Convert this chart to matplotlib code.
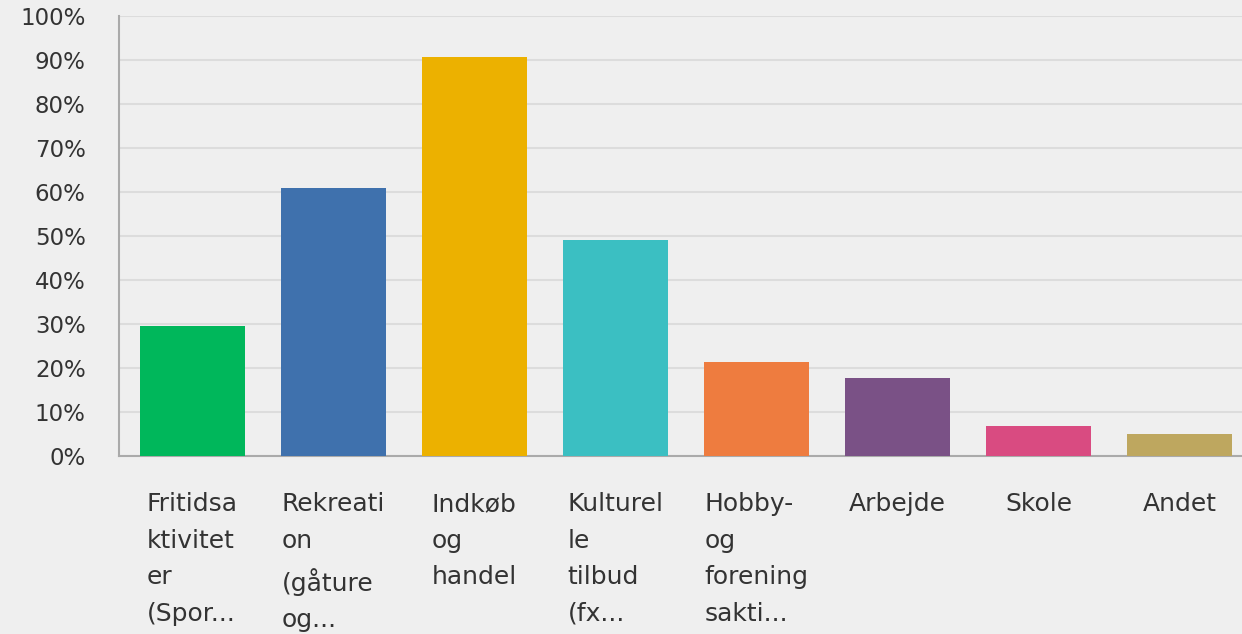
import matplotlib.pyplot as plt
import numpy as np

# survey answers (share of respondents)
categories = ["Fritidsa\nktivitet\ner\n(Spor...", "Rekreati\non\n(gåture\nog...",
              "Indkøb\nog\nhandel", "Kulturel\nle\ntilbud\n(fx...",
              "Hobby-\nog\nforening\nsakti...", "Arbejde", "Skole", "Andet"]
values = [0.295, 0.609, 0.907, 0.491, 0.214, 0.177, 0.069, 0.050]
colors = ["#00b75b", "#3f71ad", "#ecb100", "#3bbfc2", "#ee7c3f", "#7a5186", "#d94b81", "#bea75f"]
yticks = np.arange(0, 1.01, 0.1)

bg = "#efefef"
fig = plt.figure(figsize=(12.42, 6.34), dpi=100, facecolor=bg)
ax = fig.add_axes([0.0958, 0.2808, 0.9042, 0.694], facecolor=bg)

x = np.arange(len(categories))
ax.bar(x, values, width=0.745, color=colors, zorder=3)

ax.set_ylim(0, 1.0)
ax.set_xlim(-0.52, 7.44)
ax.set_yticks(yticks)
ax.set_yticklabels([f"{int(round(t*100))}%" for t in yticks], fontsize=16.5)
ax.set_xticks(x)
ax.set_xticklabels(categories, ha="center", multialignment="left", va="top",
                   linespacing=1.66, fontsize=18)

ax.grid(axis="y", color="#dcdcdc", linewidth=1.5, zorder=0)
ax.tick_params(axis="both", length=0, colors="#333333")
ax.tick_params(axis="y", pad=24)
ax.tick_params(axis="x", pad=26)
for s in ["top", "right"]:
    ax.spines[s].set_visible(False)
ax.spines["left"].set_color("#aaaaaa")
ax.spines["bottom"].set_color("#aaaaaa")
ax.spines["left"].set_linewidth(1.5)
ax.spines["bottom"].set_linewidth(1.5)

fig.savefig("out.png", dpi=100, facecolor=bg)
